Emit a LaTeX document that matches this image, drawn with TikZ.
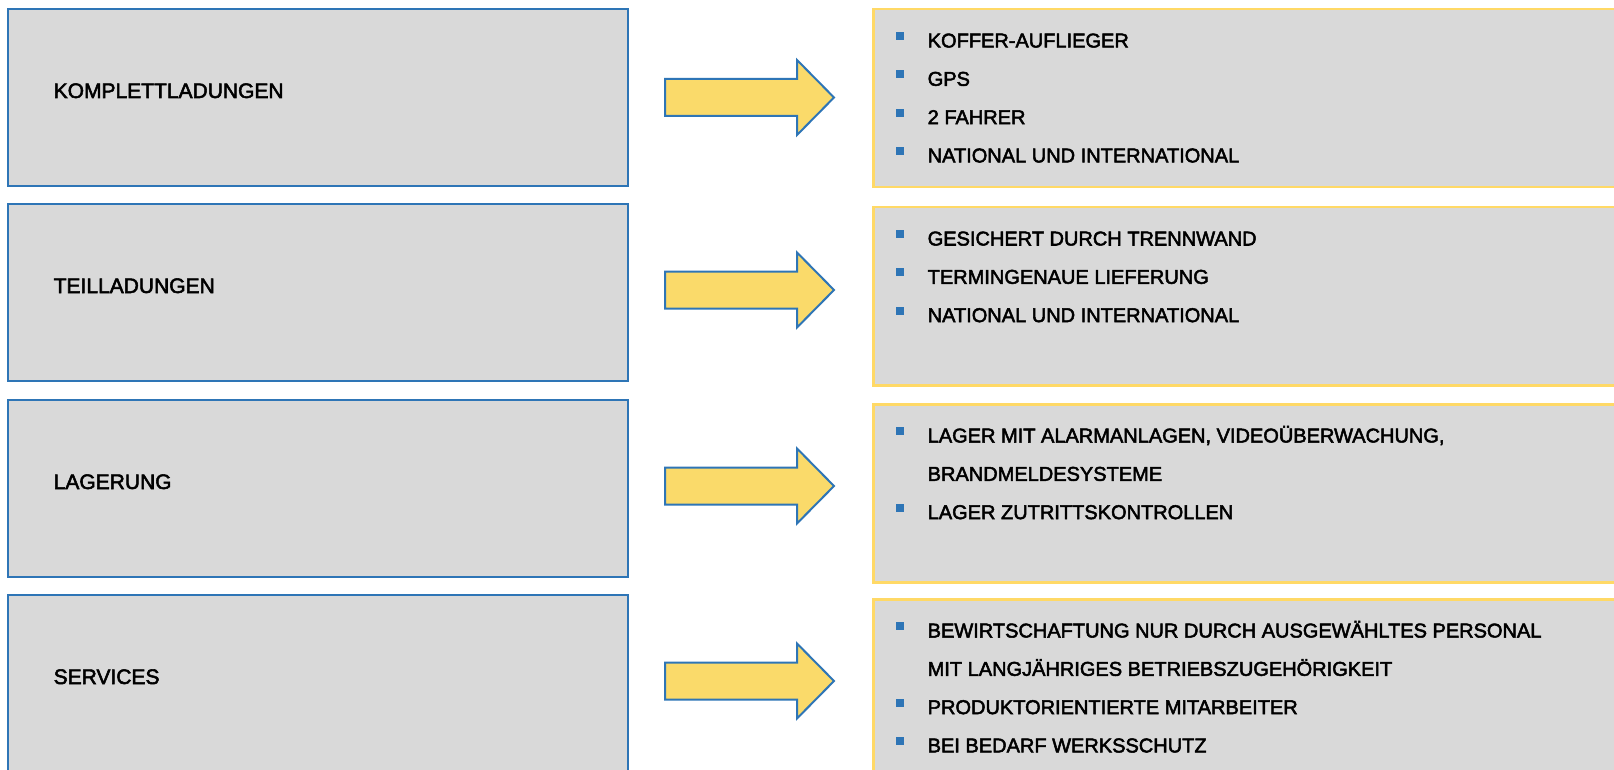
\documentclass[tikz,border=0pt]{standalone}
\usepackage{fontspec}
\setmainfont[FakeBold=2.5]{Liberation Sans}
\definecolor{boxgray}{HTML}{D9D9D9}
\definecolor{boxblue}{HTML}{2E75B6}
\definecolor{boxyellow}{HTML}{FFD966}
\definecolor{arrowfill}{HTML}{FADA6A}
\newcommand\blockarrow[2]{%
  \coordinate (#1) at (665,#2);
  \draw[arrowsty] (665,#2-18.5) -- (797,#2-18.5) -- (797,#2-37.5) -- (834,#2) -- (797,#2+37.5) -- (797,#2+18.5) -- (665,#2+18.5) -- cycle;
}
\newcommand\bulitem[3]{%
  \node[bulsq] (#1b) at (899.5,#2-11.5) {};
  \node[itm] (#1) at (927.5,#2) {#3};
}
\begin{document}
\begin{tikzpicture}[x=1pt,y=-1pt,
  lbox/.style={draw=boxblue, line width=2pt, fill=boxgray, rectangle, inner sep=0pt, anchor=north west, minimum width=620pt, minimum height=177pt},
  rbox/.style={draw=boxyellow, line width=2.5pt, fill=boxgray, rectangle, inner sep=0pt, anchor=north west, minimum width=780pt, minimum height=178pt},
  lbl/.style={anchor=base west, inner sep=0pt, font=\fontsize{21}{25}\selectfont},
  itm/.style={anchor=base west, inner sep=0pt, font=\fontsize{20}{24}\selectfont},
  bulsq/.style={fill=boxblue, inner sep=0pt, minimum size=8pt, rectangle},
  arrowsty/.style={draw=boxblue, line width=2pt, fill=arrowfill, line join=miter}
]
\clip (0,0) rectangle (1614,770);
\fill[white] (0,0) rectangle (1614,770);
% left boxes
\node[lbox] (L1) at (7,8) {};
\node[lbox] (L2) at (7,203) {};
\node[lbox] (L3) at (7,399) {};
\node[lbox] (L4) at (7,594) {};
\node[lbl] (L1t) at (53.5,98) {KOMPLETTLADUNGEN};
\node[lbl] (L2t) at (53.5,293) {TEILLADUNGEN};
\node[lbl] (L3t) at (53.5,489) {LAGERUNG};
\node[lbl] (L4t) at (53.5,684) {SERVICES};
% right boxes
\node[rbox] (R1) at (872,8) {};
\node[rbox] (R2) at (872,206) {};
\node[rbox] (R3) at (872,403) {};
\node[rbox] (R4) at (872,598) {};
% arrows
\blockarrow{A1}{97.5}
\blockarrow{A2}{290}
\blockarrow{A3}{486}
\blockarrow{A4}{681}
% box 1 items
\bulitem{Ra}{47.5}{KOFFER-AUFLIEGER}
\bulitem{Rb}{85.8}{GPS}
\bulitem{Rc}{124.1}{2 FAHRER}
\bulitem{Rd}{162.4}{NATIONAL UND INTERNATIONAL}
% box 2 items
\bulitem{Re}{245.5}{GESICHERT DURCH TRENNWAND}
\bulitem{Rf}{283.8}{TERMINGENAUE LIEFERUNG}
\bulitem{Rg}{322.1}{NATIONAL UND INTERNATIONAL}
% box 3 items
\bulitem{Rh}{442.5}{LAGER MIT ALARMANLAGEN, VIDEOÜBERWACHUNG,}
\node[itm] (Ri) at (927.5,480.8) {BRANDMELDESYSTEME};
\bulitem{Rj}{519.1}{LAGER ZUTRITTSKONTROLLEN}
% box 4 items
\bulitem{Rk}{637.5}{BEWIRTSCHAFTUNG NUR DURCH AUSGEWÄHLTES PERSONAL}
\node[itm] (Rl) at (927.5,675.8) {MIT LANGJÄHRIGES BETRIEBSZUGEHÖRIGKEIT};
\bulitem{Rm}{714.1}{PRODUKTORIENTIERTE MITARBEITER}
\bulitem{Rn}{752.4}{BEI BEDARF WERKSSCHUTZ}
\end{tikzpicture}
\end{document}
